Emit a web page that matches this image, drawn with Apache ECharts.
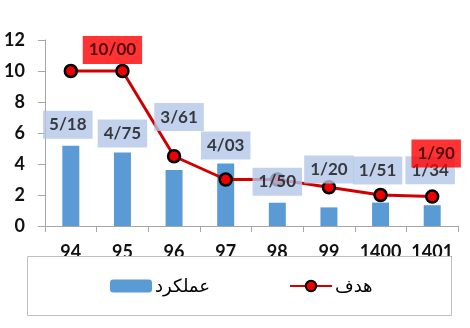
<!DOCTYPE html>
<html>
<head>
<meta charset="utf-8">
<script src="https://cdn.jsdelivr.net/npm/echarts@6/dist/echarts.min.js"></script>
<style>html,body{margin:0;padding:0;background:#fff}#c{width:470px;height:328px}</style>
</head>
<body>
<div id="c"></div>
<script>
const categories = ['94', '95', '96', '97', '98', '99', '1400', '1401'];
const performance = [5.18, 4.75, 3.61, 4.03, 1.50, 1.20, 1.51, 1.34];
const target = [10, 10, 4.5, 3, 3, 2.5, 2, 1.9];
const performanceLabels = ['5/18', '4/75', '3/61', '4/03', '1/50', '1/20', '1/51', '1/34'];
const targetLabels = ['', '10/00', '', '', '', '', '', '1/90'];
const yTicks = [0, 2, 4, 6, 8, 10, 12];

// label placement (manual in the original)
const perfLabelOffsets = [[-3, -21], [0, -19], [5, -53], [0, -18], [0, -21], [0, -38], [-3, -32], [-2, -35]];
const targetLabelOffsets = [[0, 0], [-10, -21], [0, 0], [0, 0], [0, 0], [0, 0], [0, 0], [4, -43]];

const FONT = "Lato, 'DejaVu Sans', sans-serif";
const chart = echarts.init(document.getElementById('c'), null, {renderer: 'canvas'});

const labelBase = {
  show: true, position: 'inside', fontFamily: FONT, fontWeight: 'bold', fontSize: 17,
  color: '#111', padding: [6, 6, 5, 6]
};

chart.setOption({
  animation: false,
  grid: {left: 45, right: 12, top: 40, bottom: 102, containLabel: false},
  graphic: [{
    type: 'rect', z: 3, silent: true,
    shape: {x: 27.5, y: 256.5, width: 424, height: 59},
    style: {fill: '#fff', stroke: '#BFBFBF', lineWidth: 1}
  }],
  legend: {
    data: ['عملکرد', 'هدف'],
    left: 110, top: 277, padding: 0, itemGap: 79, itemWidth: 42, itemHeight: 13,
    textStyle: {fontFamily: FONT, fontSize: 18, color: '#000', padding: [0, 0, 0, -2]},
    z: 6
  },
  xAxis: {
    type: 'category', data: categories, boundaryGap: true,
    axisLine: {lineStyle: {color: '#A6A6A6', width: 1}},
    axisTick: {show: true, length: 6, interval: 0, lineStyle: {color: '#A6A6A6'}},
    axisLabel: {interval: 0, margin: 17, fontFamily: FONT, fontWeight: 'bold', fontSize: 18, color: '#111'}
  },
  yAxis: {
    type: 'value', min: yTicks[0], max: yTicks[yTicks.length - 1], interval: yTicks[1] - yTicks[0],
    splitLine: {show: false},
    axisLine: {show: true, lineStyle: {color: '#A6A6A6', width: 1}},
    axisTick: {show: true, length: 7, lineStyle: {color: '#A6A6A6'}},
    axisLabel: {margin: 20, fontFamily: FONT, fontWeight: 'bold', fontSize: 18, color: '#111'}
  },
  series: [
    {
      name: 'عملکرد', type: 'bar', data: performance, barWidth: 17, z: 2,
      itemStyle: {color: '#5B9BD5'}
    },
    {
      name: 'هدف', type: 'line', data: target, z: 3,
      lineStyle: {color: '#D00000', width: 3},
      symbol: 'circle', symbolSize: 12,
      itemStyle: {color: '#F00000', borderColor: '#000', borderWidth: 2.5}
    },
    {
      name: 'perfLabels', type: 'scatter', z: 4, silent: true,
      symbolSize: 1, itemStyle: {color: 'rgba(0,0,0,0)'},
      data: performance.map((v, i) => ({
        value: v,
        label: Object.assign({}, labelBase, {
          formatter: performanceLabels[i], offset: perfLabelOffsets[i], backgroundColor: '#B4C7E7'
        })
      }))
    },
    {
      name: 'targetLabels', type: 'scatter', z: 5, silent: true,
      symbolSize: 1, itemStyle: {color: 'rgba(0,0,0,0)'},
      data: target.map((v, i) => ({
        value: v,
        label: Object.assign({}, labelBase, {
          show: !!targetLabels[i], formatter: targetLabels[i] || ' ',
          offset: targetLabelOffsets[i], backgroundColor: '#FF0000', color: '#2a0000'
        })
      }))
    }
  ]
});
</script>
</body>
</html>
